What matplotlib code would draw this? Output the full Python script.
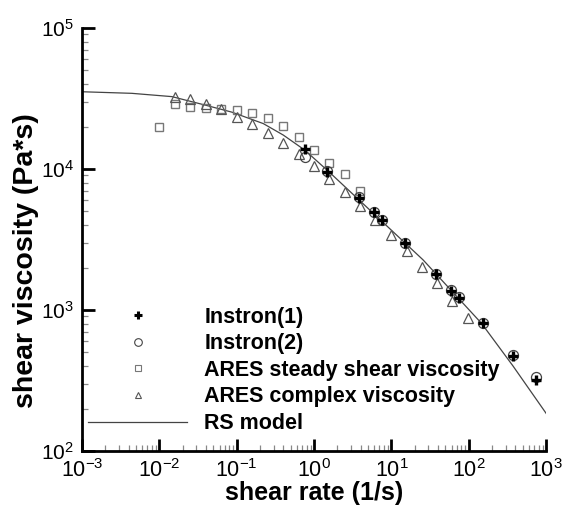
import math
import matplotlib
matplotlib.use("Agg")
import matplotlib.pyplot as plt
from matplotlib.lines import Line2D
from matplotlib.ticker import LogLocator, FuncFormatter, NullFormatter

plt.rcParams['font.family'] = ['Liberation Sans', 'DejaVu Sans']
plt.rcParams['mathtext.fontset'] = 'custom'
plt.rcParams['mathtext.rm'] = 'Liberation Sans'
plt.rcParams['mathtext.it'] = 'Liberation Sans'

# Instron(1)
inst1_x = [0.76, 1.48, 3.79, 5.98, 7.52, 15.2, 38.2, 59.7, 75, 153, 374, 750]
inst1_y = [13800, 9490, 6220, 4930, 4330, 2970, 1800, 1370, 1223, 805, 475, 319]

# Instron(2)
inst2_x = [0.76, 1.48, 3.79, 5.98, 7.52, 15.2, 38.2, 59.7, 75, 153, 374, 750]
inst2_y = [12100, 9600, 6300, 4950, 4350, 2990, 1810, 1380, 1230, 810, 480, 334]

# ARES steady shear viscosity
steady_x = [0.0099, 0.0159, 0.0248, 0.0396, 0.0625, 0.0998, 0.157, 0.25, 0.395, 0.63, 1.0, 1.57, 2.48, 3.91]
steady_y = [20000, 29000, 27700, 27200, 26700, 26200, 25100, 23100, 20300, 16800, 13700, 11100, 9220, 6980]

# ARES complex viscosity
complex_x = [0.0159, 0.0248, 0.0396, 0.0625, 0.0998, 0.157, 0.25, 0.395, 0.63, 1.0, 1.57,
             2.48, 3.91, 6.2, 9.9, 15.7, 24.7, 39, 61.5, 99]
complex_y = [32600, 31300, 29000, 26800, 23500, 20700, 17900, 15200, 12800, 10500, 8490,
             6900, 5500, 4350, 3400, 2600, 2030, 1545, 1164, 873]

# RS model
model_x = [0.001, 0.0044, 0.0145, 0.039, 0.0865, 0.22, 0.40, 0.76, 1.6, 7.45, 25.7, 146, 373, 1000]
model_y = [35300, 34400, 32600, 28400, 25300, 21000, 17400, 13600, 9420, 4280, 2265, 805, 401, 185]

fig = plt.figure(figsize=(5.63, 5.05), dpi=100)
ax = fig.add_axes([0.1457, 0.1069, 0.8243, 0.8377])

ax.plot(model_x, model_y, color='#444444', lw=0.9, zorder=1)
ax.plot(steady_x, steady_y, ls='none', marker='s', ms=5.5, mfc='none', mec='#777777', mew=1.0, zorder=2)
ax.plot(complex_x, complex_y, ls='none', marker='^', ms=6.5, mfc='none', mec='#555555', mew=0.9, zorder=2)
ax.plot(inst2_x, inst2_y, ls='none', marker='o', ms=7.2, mfc='none', mec='#444444', mew=0.9, zorder=3)
ax.plot(inst1_x, inst1_y, ls='none', marker='+', ms=7.5, mec='black', mew=2.4, zorder=4)

ax.set_xscale('log')
ax.set_yscale('log')
ax.set_xlim(1e-3, 1e3)
ax.set_ylim(1e2, 1e5)

for s in ['top', 'right']:
    ax.spines[s].set_visible(False)
for s in ['left', 'bottom']:
    ax.spines[s].set_linewidth(2.0)

fmt = FuncFormatter(lambda v, p: r'$10^{%d}$' % round(math.log10(v)))
for a in (ax.xaxis, ax.yaxis):
    a.set_major_locator(LogLocator(base=10, numticks=10))
    a.set_minor_locator(LogLocator(base=10, subs=range(2, 10), numticks=10))
    a.set_major_formatter(fmt)
    a.set_minor_formatter(NullFormatter())
ax.tick_params(which='major', direction='in', length=9, width=2, pad=6)
ax.tick_params(which='minor', direction='in', length=4.5, width=0.9, color='#888888',
               labelbottom=False, labelleft=False)
ax.tick_params(axis='x', which='major', labelsize=15.5)
ax.tick_params(axis='y', which='major', labelsize=15)

ax.set_xlabel('shear rate (1/s)', fontsize=18, fontweight='bold', labelpad=-1)
ax.set_ylabel('shear viscosity (Pa*s)', fontsize=20.5, fontweight='bold')
ax.yaxis.set_label_coords(-0.092, 0.449)

handles = [
    Line2D([], [], ls='none', marker='+', ms=6, mec='black', mew=2.2),
    Line2D([], [], ls='none', marker='o', ms=5.5, mfc='none', mec='#444444', mew=0.8),
    Line2D([], [], ls='none', marker='s', ms=4, mfc='none', mec='#777777', mew=0.8),
    Line2D([], [], ls='none', marker='^', ms=5, mfc='none', mec='#555555', mew=0.8),
    Line2D([], [], color='#444444', lw=0.9),
]
labels = ['Instron(1)', 'Instron(2)', 'ARES steady shear viscosity', 'ARES complex viscosity', 'RS model']
leg = ax.legend(handles, labels, loc='lower left', bbox_to_anchor=(0.013, 0.04), frameon=False,
                prop={'size': 15.5, 'weight': 'bold'}, handlelength=4.6, handletextpad=0.8,
                labelspacing=0.26, borderpad=0, borderaxespad=0)

fig.savefig('out.png', dpi=100)
